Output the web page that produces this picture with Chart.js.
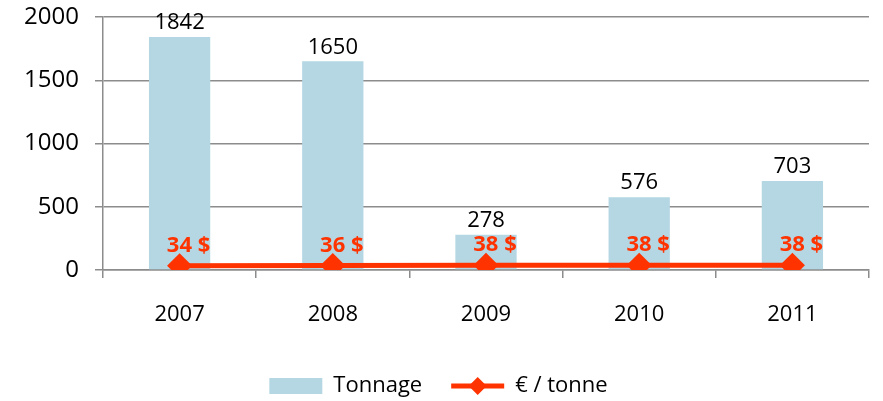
<!DOCTYPE html>
<html>
<head>
<meta charset="utf-8">
<script src="https://cdn.jsdelivr.net/npm/chart.js@4"></script>
<style>
  html, body { margin: 0; padding: 0; background: #ffffff; }
  #wrap { width: 883px; height: 401px; }
</style>
</head>
<body>
<div id="wrap"><canvas id="chart" width="883" height="401"></canvas></div>
<script>
// données du graphique
const annees = ['2007', '2008', '2009', '2010', '2011'];
const tonnage = [1842, 1650, 278, 576, 703];
const prixTonne = [34, 36, 38, 38, 38];
const graduations = [0, 500, 1000, 1500, 2000];

const ROUGE = '#ff3300';
const BLEU = '#b4d7e3';
const GRIS = '#8c8c8c';
const POLICE = '"Open Sans", "Liberation Sans", sans-serif';

// étiquettes de valeurs au-dessus des barres et des points
const etiquettes = {
    id: 'etiquettes',
    afterDatasetsDraw(chart) {
        const ctx = chart.ctx;
        ctx.save();
        ctx.textAlign = 'center';
        ctx.textBaseline = 'bottom';
        ctx.font = '22px ' + POLICE;
        ctx.fillStyle = '#000000';
        chart.getDatasetMeta(1).data.forEach((barre, i) => {
            ctx.fillText(String(tonnage[i]), barre.x, barre.y - 3);
        });
        ctx.font = 'bold 22px ' + POLICE;
        ctx.fillStyle = ROUGE;
        chart.getDatasetMeta(0).data.forEach((pt, i) => {
            ctx.fillText(prixTonne[i] + ' $', pt.x + 9, pt.y - 9);
        });
        ctx.restore();
    },
    // symbole ligne + losange dans la légende
    afterDraw(chart) {
        const lg = chart.legend;
        if (!lg || !lg.legendHitBoxes || lg.legendHitBoxes.length < 2) return;
        const hb = lg.legendHitBoxes[1];
        const bw = lg.options.labels.boxWidth;
        const cy = hb.top + hb.height / 2;
        const ctx = chart.ctx;
        ctx.save();
        ctx.strokeStyle = ROUGE;
        ctx.lineWidth = 5;
        ctx.beginPath();
        ctx.moveTo(hb.left, cy);
        ctx.lineTo(hb.left + bw, cy);
        ctx.stroke();
        const cx = hb.left + bw / 2;
        ctx.fillStyle = ROUGE;
        ctx.beginPath();
        ctx.moveTo(cx, cy - 9);
        ctx.lineTo(cx + 9, cy);
        ctx.lineTo(cx, cy + 9);
        ctx.lineTo(cx - 9, cy);
        ctx.closePath();
        ctx.fill();
        ctx.restore();
    }
};

new Chart(document.getElementById('chart').getContext('2d'), {
    data: {
        labels: annees,
        datasets: [
            {
                type: 'line',
                label: '€ / tonne',
                data: prixTonne,
                borderColor: ROUGE,
                backgroundColor: ROUGE,
                borderWidth: 5,
                pointStyle: 'rectRot',
                pointRadius: 9,
                pointHoverRadius: 9,
                tension: 0,
                order: 0
            },
            {
                type: 'bar',
                label: 'Tonnage',
                data: tonnage,
                backgroundColor: BLEU,
                borderWidth: 0,
                categoryPercentage: 1,
                barPercentage: 0.4,
                order: 1
            }
        ]
    },
    options: {
        responsive: false,
        animation: false,
        layout: { padding: { top: 17, right: 6, bottom: 0, left: 0 } },
        scales: {
            x: {
                offset: true,
                grid: {
                    display: true,
                    drawOnChartArea: false,
                    drawTicks: true,
                    tickLength: 8,
                    color: GRIS,
                    lineWidth: 1.5
                },
                border: { display: true, color: GRIS, width: 1.5 },
                ticks: {
                    color: '#000000',
                    font: { family: POLICE, size: 22 },
                    padding: 24
                },
                afterFit(scale) { scale.height = 76; }
            },
            y: {
                min: 0,
                max: 2000,
                afterBuildTicks(scale) {
                    scale.ticks = graduations.map(v => ({ value: v }));
                },
                grid: {
                    color: GRIS,
                    lineWidth: 1.5,
                    tickLength: 8
                },
                border: { display: true, color: GRIS, width: 1.5 },
                ticks: {
                    color: '#000000',
                    font: { family: POLICE, size: 24 },
                    padding: 16,
                    callback: v => String(v)
                },
                afterFit(scale) {
                    scale.width = 103;
                    scale.paddingTop = 0;
                    scale.paddingBottom = 0;
                }
            }
        },
        plugins: {
            legend: {
                position: 'bottom',
                maxHeight: 55,
                labels: {
                    boxWidth: 53,
                    boxHeight: 16,
                    padding: 29,
                    color: '#000000',
                    font: { family: POLICE, size: 22 },
                    generateLabels(chart) {
                        return [
                            { text: 'Tonnage', fillStyle: BLEU, strokeStyle: BLEU, lineWidth: 0, datasetIndex: 1 },
                            { text: '€ / tonne', fillStyle: 'rgba(0,0,0,0)', strokeStyle: 'rgba(0,0,0,0)', lineWidth: 0, datasetIndex: 0 }
                        ];
                    }
                }
            },
            tooltip: { enabled: false }
        }
    },
    plugins: [etiquettes]
});
</script>
</body>
</html>
